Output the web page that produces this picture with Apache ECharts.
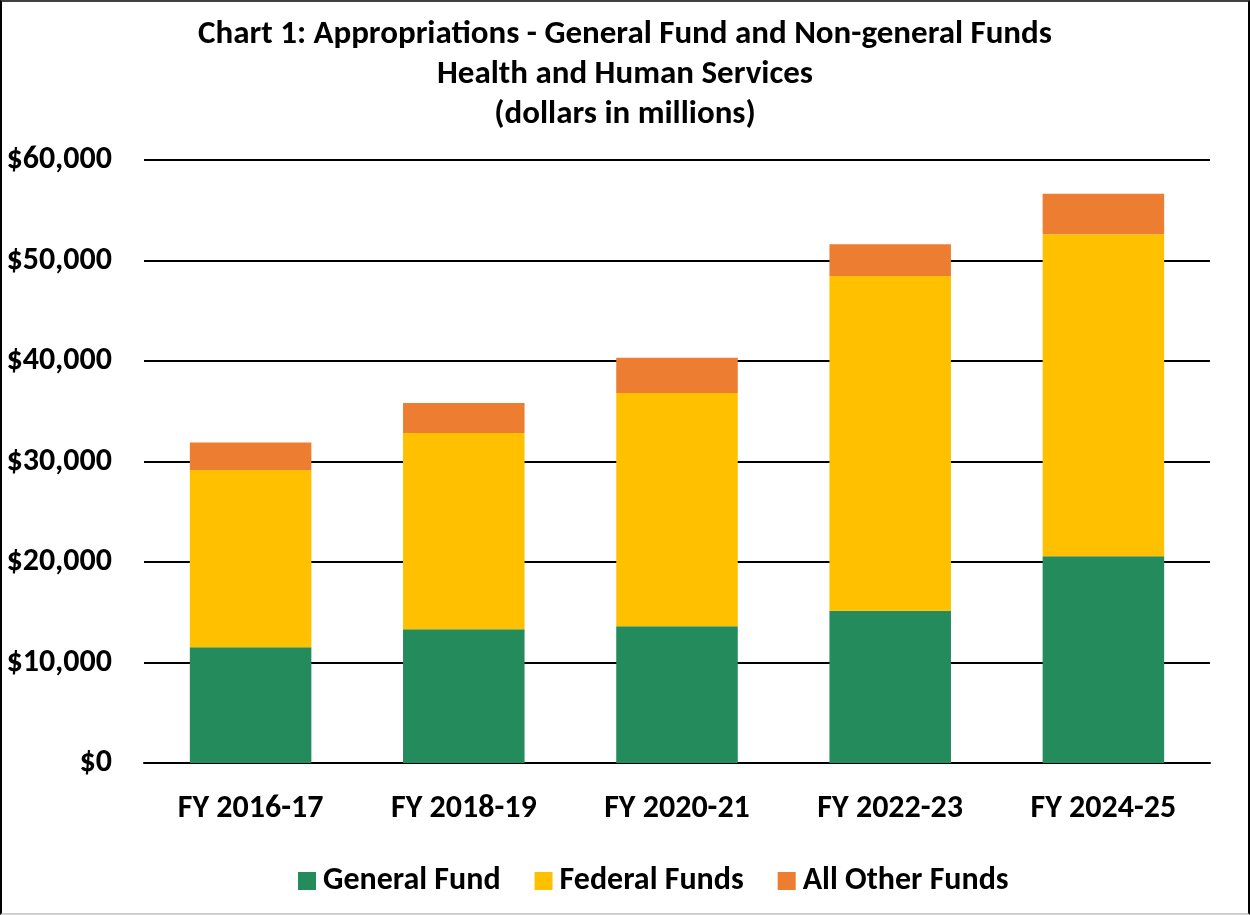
<!DOCTYPE html>
<html>
<head>
<meta charset="utf-8">
<script src="https://cdn.jsdelivr.net/npm/echarts@6/dist/echarts.min.js"></script>
<style>
  html, body { margin: 0; padding: 0; background: #fff; }
  #chart {
    width: 1250px;
    height: 915px;
    box-sizing: border-box;
    border-top: 2px solid #404040;
    border-left: 2px solid #000;
    border-right: 2px solid #000;
    border-bottom: 2px solid #d0d0d0;
  }
</style>
</head>
<body>
<div id="chart"></div>
<script>
// fiscal years on the x axis
const categories = ['FY 2016-17', 'FY 2018-19', 'FY 2020-21', 'FY 2022-23', 'FY 2024-25']

// appropriations, dollars in millions
const generalFund = [11520, 13300, 13600, 15150, 20580]
const federalFunds = [17630, 19540, 23220, 33300, 32020]
const otherFunds = [2730, 2990, 3500, 3160, 4050]

const seriesNames = ['General Fund', 'Federal Funds', 'All Other Funds']
const seriesColors = ['#238b5c', '#ffc000', '#ed7d31']

const font = 'Carlito, Calibri, Lato, sans-serif'

const chart = echarts.init(document.getElementById('chart'))

const makeSeries = (name, data, color) => ({
  name: name,
  type: 'bar',
  stack: 'total',
  barWidth: '57%',
  data: data,
  itemStyle: { color: color },
  animation: false
})

const option = {
  title: {
    text: 'Chart 1: Appropriations - General Fund and Non-general Funds\nHealth and Human Services\n(dollars in millions)',
    left: 'center',
    top: 8,
    textStyle: {
      fontFamily: font,
      fontSize: 33,
      fontWeight: 'bold',
      color: '#000',
      lineHeight: 40
    }
  },
  legend: {
    bottom: 11,
    left: 291,
    itemWidth: 18,
    itemHeight: 18,
    itemGap: 34,
    icon: 'rect',
    textStyle: {
      fontFamily: font,
      fontSize: 32,
      fontWeight: 'bold',
      color: '#000',
      padding: [0, 0, 0, 2]
    },
    data: seriesNames
  },
  grid: {
    left: 142,
    right: 38,
    top: 158,
    bottom: 150
  },
  xAxis: {
    type: 'category',
    data: categories,
    axisTick: { show: false },
    axisLine: { lineStyle: { color: '#000', width: 2 } },
    axisLabel: {
      margin: 30,
      fontFamily: font,
      fontSize: 32,
      fontWeight: 'bold',
      color: '#000'
    }
  },
  yAxis: {
    type: 'value',
    min: 0,
    max: 60000,
    interval: 10000,
    axisLine: { show: false },
    axisTick: { show: false },
    splitLine: { lineStyle: { color: '#000', width: 2 } },
    axisLabel: {
      margin: 32,
      fontFamily: font,
      fontSize: 32,
      fontWeight: 'bold',
      color: '#000',
      formatter: (v) => '$' + v.toLocaleString('en-US')
    }
  },
  series: [
    makeSeries(seriesNames[0], generalFund, seriesColors[0]),
    makeSeries(seriesNames[1], federalFunds, seriesColors[1]),
    makeSeries(seriesNames[2], otherFunds, seriesColors[2])
  ]
}

chart.setOption(option)
</script>
</body>
</html>
